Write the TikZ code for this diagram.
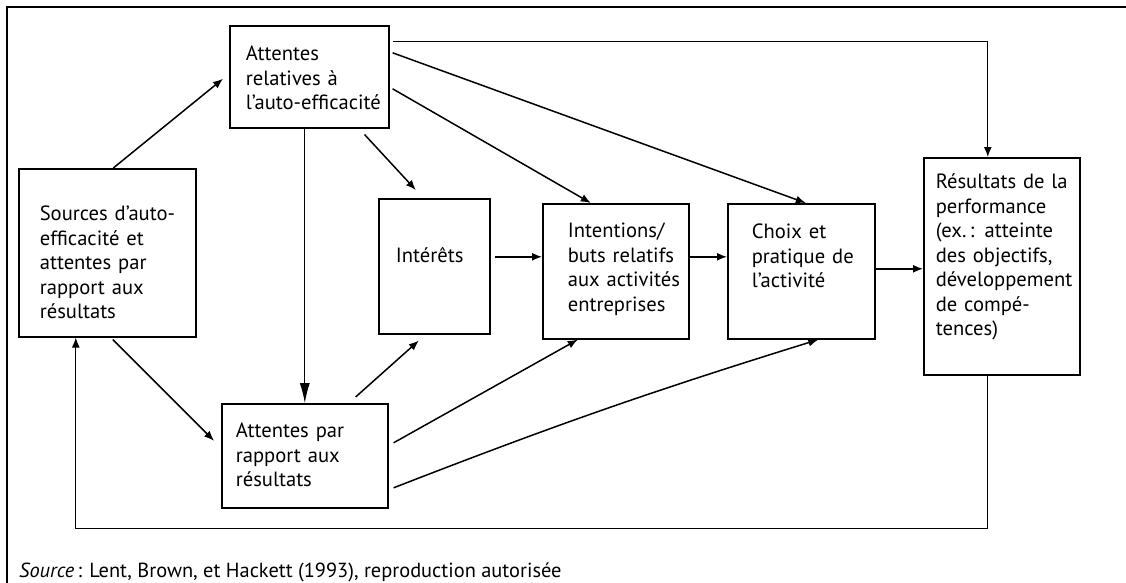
\documentclass[tikz,border=0pt]{standalone}
\usepackage{fontspec}
\setmainfont{PT Sans}
\usetikzlibrary{arrows.meta}
\hyphenpenalty=10000
\exhyphenpenalty=10000
\begin{document}
\begin{tikzpicture}
	[x=1pt,y=-1pt,>={Latex[length=10pt,width=8pt]},
	box/.style={draw,line width=1.6pt,anchor=north west,inner sep=0pt,align=left,
		font=\fontsize{20.6}{24.5}\selectfont},
	pad/.style={execute at begin node={\leftskip=#1}},
	arr/.style={->,line width=1.5pt}]
	\useasboundingbox (0,0) rectangle (1126,583);
	\draw[line width=1.8pt] (7,583) -- (7,7) -- (1126,7);
	\node[box,pad=21pt,text width=177pt,text height=52pt,text depth=116pt] (sources) at (18,168) {Sources d'auto-\\efficacité et\\attentes par\\rapport aux\\résultats};
	\node[box,pad=16pt,text width=159pt,text height=35pt,text depth=67pt] (efficacite) at (229,25) {Attentes\\relatives à\\l'auto-efficacité};
	\node[box,pad=14pt,text width=166pt,text height=34pt,text depth=70pt] (attentes) at (221,403) {Attentes par\\rapport aux\\résultats};
	\node[box,pad=17pt,text width=111pt,text height=64pt,text depth=71pt] (interets) at (378,198) {Intérêts};
	\node[box,pad=25pt,text width=146pt,text height=34pt,text depth=101pt] (intentions) at (542,203) {Intentions/\\buts relatifs\\aux activités\\entreprises};
	\node[box,pad=24pt,text width=147pt,text height=35pt,text depth=100pt] (choix) at (727,203) {Choix et\\pratique de\\l'activité};
	\node[box,pad=12pt,text width=156pt,text height=31pt,text depth=186pt] (performance) at (923,157) {Résultats de la\\performance\\(ex.\,: atteinte\\des objectifs,\\développement\\de compé-\\tences)};
	\node[anchor=base west,inner sep=0pt,font=\fontsize{20.4}{24}\selectfont] (note) at (19,577) {\textit{Source}\,: Lent, Brown, et Hackett (1993), reproduction autorisée};
	% sources
	\draw[arr] ([xshift=6pt]sources.north) -- ([xshift=-6pt,yshift=-2pt]efficacite.west);
	\draw[arr] ([xshift=5.5pt,yshift=-2pt]sources.south) -- ([xshift=-7pt,yshift=15pt]attentes.west);
	% auto-efficacite
	\draw[-{Latex[length=20pt,width=10pt]},line width=1pt] (efficacite.south -| attentes.north) -- (attentes.north);
	\draw[arr] ([xshift=-25pt,yshift=-6pt]efficacite.south east) -- ([xshift=-18.5pt,yshift=8pt]interets.north);
	\draw[arr] ([xshift=3pt,yshift=-12pt]efficacite.east) -- ([xshift=-25pt]intentions.north);
	\draw[arr] ([xshift=3pt,yshift=24pt]efficacite.east) -- ([xshift=4.5pt]choix.north);
	\draw[->,line width=1.2pt] ([xshift=3pt,yshift=35pt]efficacite.east) -| ([xshift=-14pt]performance.north);
	% attentes par rapport aux resultats
	\draw[arr] ([xshift=-33pt,yshift=6pt]attentes.north east) -- ([xshift=-15.5pt,yshift=-6pt]interets.south);
	\draw[arr] ([xshift=5pt,yshift=13pt]attentes.east) -- ([xshift=-38pt]intentions.south);
	\draw[arr] ([xshift=5pt,yshift=-32pt]attentes.east) to[bend left=2] ([xshift=17pt]choix.south);
	% chaine horizontale
	\draw[arr] ([xshift=4pt,yshift=9.5pt]interets.east) -- ([yshift=14.5pt]intentions.west);
	\draw[arr] ([yshift=14.5pt]intentions.east) -- ([yshift=14.5pt]choix.west);
	\draw[arr] ([yshift=2.5pt]choix.east) -- ([yshift=-2.5pt]performance.west);
	% retour
	\draw[->,line width=1.2pt] ([xshift=-14pt]performance.south) -- ++(0,153) -| ([xshift=-31.5pt]sources.south);
\end{tikzpicture}
\end{document}
